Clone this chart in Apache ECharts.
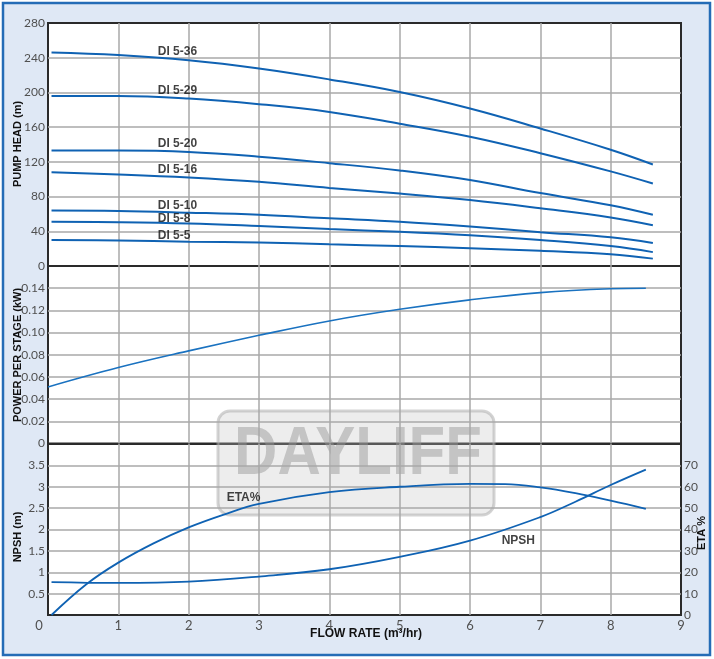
<!DOCTYPE html>
<html>
<head>
<meta charset="utf-8">
<script src="https://cdn.jsdelivr.net/npm/echarts@6/dist/echarts.min.js"></script>
<style>
html,body{margin:0;padding:0;background:#fff;}
#chart{width:714px;height:659px;}
</style>
</head>
<body>
<div id="chart"></div>
<script>
// ---------- DATA ----------
const headX = [0.05, 1, 2, 3, 4, 5, 6, 7, 8, 8.6];
const head_36 = [246, 243, 237, 227.5, 215, 200.5, 181.5, 158.5, 134, 117];
const head_29 = [196, 196, 193, 186.5, 177.5, 164, 149, 130, 109, 95];
const head_20 = [133, 133, 131.5, 126, 118.5, 110, 99, 84, 70, 59];
const head_16 = [108, 105.5, 102, 97, 90, 83.5, 76, 66.5, 56, 47];
const head_10 = [64, 63.5, 61.5, 59, 55, 51, 45.5, 39, 33, 26.5];
const head_8 = [51, 50.5, 49, 46, 42.5, 39.5, 35.5, 30, 23, 16];
const head_5 = [30, 29.5, 28, 27, 25, 23, 20.5, 17.5, 13.5, 8.5];
const headNames = ['DI 5-36', 'DI 5-29', 'DI 5-20', 'DI 5-16', 'DI 5-10', 'DI 5-8', 'DI 5-5'];
const headLabelX = [1.56, 1.56, 1.56, 1.56, 1.56, 1.56, 1.56];
const headLabelY = [247.5, 202, 140.5, 110.5, 69.5, 55, 35.5];

const powerX = [0, 1, 2, 3, 4, 5, 6, 7, 8, 8.5];
const power = [0.051, 0.0685, 0.0835, 0.0975, 0.1105, 0.121, 0.1295, 0.136, 0.1395, 0.140];

const etaX = [0.05, 0.55, 1, 1.5, 2, 2.5, 3, 4, 5, 6, 6.5, 7, 7.5, 8, 8.5];
const eta = [0, 14.5, 24.5, 33.5, 41, 47, 52, 57.5, 60, 61.3, 61.2, 59.7, 57, 53.5, 49.7];

const npshX = [0.05, 1, 2, 3, 4, 5, 6, 7, 7.5, 8, 8.5];
const npsh = [0.77, 0.75, 0.78, 0.9, 1.07, 1.36, 1.74, 2.29, 2.65, 3.04, 3.4];

const bottomLabels = ['ETA%', 'NPSH'];
const bottomLabelX = [2.54, 6.45];
const bottomLabelY = [2.75, 1.74];

// ---------- STYLE ----------
const LINE = '#0f62b3';
const GRIDC = '#a9a9a9';
const tickFont = {fontFamily: 'Lato', fontSize: 12, color: '#505050'};
const L = 48, W = 633;

const zip = (xs, ys) => xs.map((x, i) => [x, ys[i]]);
const split = {show: true, showMinLine: false, showMaxLine: false, lineStyle: {color: GRIDC, width: 1.5}};

const xBase = (gi, showLabels) => ({
  type: 'value', gridIndex: gi, min: 0, max: 9, interval: 1,
  axisLine: {show: false}, axisTick: {show: false},
  splitLine: split,
  axisLabel: showLabels ? {
    show: true, margin: 4, ...tickFont, fontSize: 13,
    formatter: v => v === 0 ? '{z|0}' : String(v),
    rich: {z: {padding: [0, 18, 0, 0], fontFamily: 'Lato', fontSize: 13, color: '#505050'}}
  } : {show: false}
});

const yBase = (gi, min, max, interval, extra) => Object.assign({
  type: 'value', gridIndex: gi, min, max, interval,
  axisLine: {show: false}, axisTick: {show: false},
  splitLine: split,
  axisLabel: Object.assign({margin: 3}, tickFont)
}, extra || {});

const headSeries = [head_36, head_29, head_20, head_16, head_10, head_8, head_5].map((d, i) => ({
  type: 'line', name: headNames[i], xAxisIndex: 0, yAxisIndex: 0,
  data: zip(headX, d), smooth: 0.4, symbol: 'none',
  lineStyle: {color: LINE, width: 2}, z: 5
}));

const labelStyle = {
  show: true, position: [0, 0], align: 'left', verticalAlign: 'middle',
  formatter: p => p.data[2], fontFamily: 'Liberation Sans', fontWeight: 'bold',
  fontSize: 12, color: '#111'
};

const chart = echarts.init(document.getElementById('chart'), null, {renderer: 'canvas'});
chart.setOption({
  backgroundColor: '#ffffff',
  animation: false,
  graphic: [
    {type: 'rect', z: -10, shape: {x: 3, y: 3, width: 707, height: 652},
     style: {fill: '#dfe8f5', stroke: '#246cb6', lineWidth: 2.5}},
    {type: 'group', z: 3, children: [
      {type: 'rect', shape: {x: 218, y: 411, width: 276, height: 104, r: 12},
       style: {fill: 'rgba(195,195,195,0.30)', stroke: 'rgba(175,175,175,0.55)', lineWidth: 3}},
      {type: 'text', x: 358, y: 455, scaleY: 1.15,
       style: {text: 'DAYLIFF', font: 'bold 60px "Liberation Sans"', fill: 'rgba(150,150,150,0.48)',
               align: 'center', verticalAlign: 'middle'}}
    ]},
    {type: 'text', x: 18, y: 144, rotation: Math.PI / 2,
     style: {text: 'PUMP HEAD (m)', font: 'bold 11px "Liberation Sans"', fill: '#111', align: 'center', verticalAlign: 'middle'}},
    {type: 'text', x: 18, y: 355, rotation: Math.PI / 2,
     style: {text: 'POWER PER STAGE (kW)', font: 'bold 11px "Liberation Sans"', fill: '#111', align: 'center', verticalAlign: 'middle'}},
    {type: 'text', x: 18, y: 537, rotation: Math.PI / 2,
     style: {text: 'NPSH (m)', font: 'bold 11px "Liberation Sans"', fill: '#111', align: 'center', verticalAlign: 'middle'}},
    {type: 'text', x: 702, y: 533, rotation: Math.PI / 2,
     style: {text: 'ETA %', font: 'bold 11px "Liberation Sans"', fill: '#111', align: 'center', verticalAlign: 'middle'}},
    {type: 'text', x: 366, y: 634,
     style: {text: 'FLOW RATE (m³/hr)', font: 'bold 12px "Liberation Sans"', fill: '#111', align: 'center', verticalAlign: 'middle'}}
  ],
  grid: [
    {left: L, width: W, top: 23, height: 243, show: true, backgroundColor: '#fff', borderColor: '#2a2a2a', borderWidth: 2},
    {left: L, width: W, top: 266, height: 177.5, show: true, backgroundColor: '#fff', borderColor: '#2a2a2a', borderWidth: 2},
    {left: L, width: W, top: 444, height: 171, show: true, backgroundColor: '#fff', borderColor: '#2a2a2a', borderWidth: 2}
  ],
  xAxis: [xBase(0, false), xBase(1, false), xBase(2, true)],
  yAxis: [
    yBase(0, 0, 280, 40),
    yBase(1, 0, 0.16, 0.02, {axisLabel: Object.assign({margin: 3, showMaxLabel: false,
      formatter: v => v === 0 ? '0' : v.toFixed(2)}, tickFont)}),
    yBase(2, 0, 4, 0.5, {axisLabel: Object.assign({margin: 3, showMaxLabel: false, showMinLabel: false}, tickFont)}),
    yBase(2, 0, 80, 10, {position: 'right', splitLine: {show: false},
      axisLabel: Object.assign({margin: 3, showMaxLabel: false}, tickFont)})
  ],
  series: [
    ...headSeries,
    {type: 'scatter', xAxisIndex: 0, yAxisIndex: 0, symbolSize: 0, z: 6,
     data: headNames.map((n, i) => [headLabelX[i], headLabelY[i], n]), label: labelStyle},
    {type: 'line', name: 'Power', xAxisIndex: 1, yAxisIndex: 1, data: zip(powerX, power),
     smooth: 0.4, symbol: 'none', lineStyle: {color: '#1a72c0', width: 1.6}, z: 5},
    {type: 'line', name: 'ETA%', xAxisIndex: 2, yAxisIndex: 3, data: zip(etaX, eta),
     smooth: 0.4, symbol: 'none', lineStyle: {color: LINE, width: 1.8}, z: 5},
    {type: 'line', name: 'NPSH', xAxisIndex: 2, yAxisIndex: 2, data: zip(npshX, npsh),
     smooth: 0.4, symbol: 'none', lineStyle: {color: LINE, width: 1.8}, z: 5},
    {type: 'scatter', xAxisIndex: 2, yAxisIndex: 2, symbolSize: 0, z: 6,
     data: bottomLabels.map((n, i) => [bottomLabelX[i], bottomLabelY[i], n]), label: labelStyle}
  ]
});
</script>
</body>
</html>
